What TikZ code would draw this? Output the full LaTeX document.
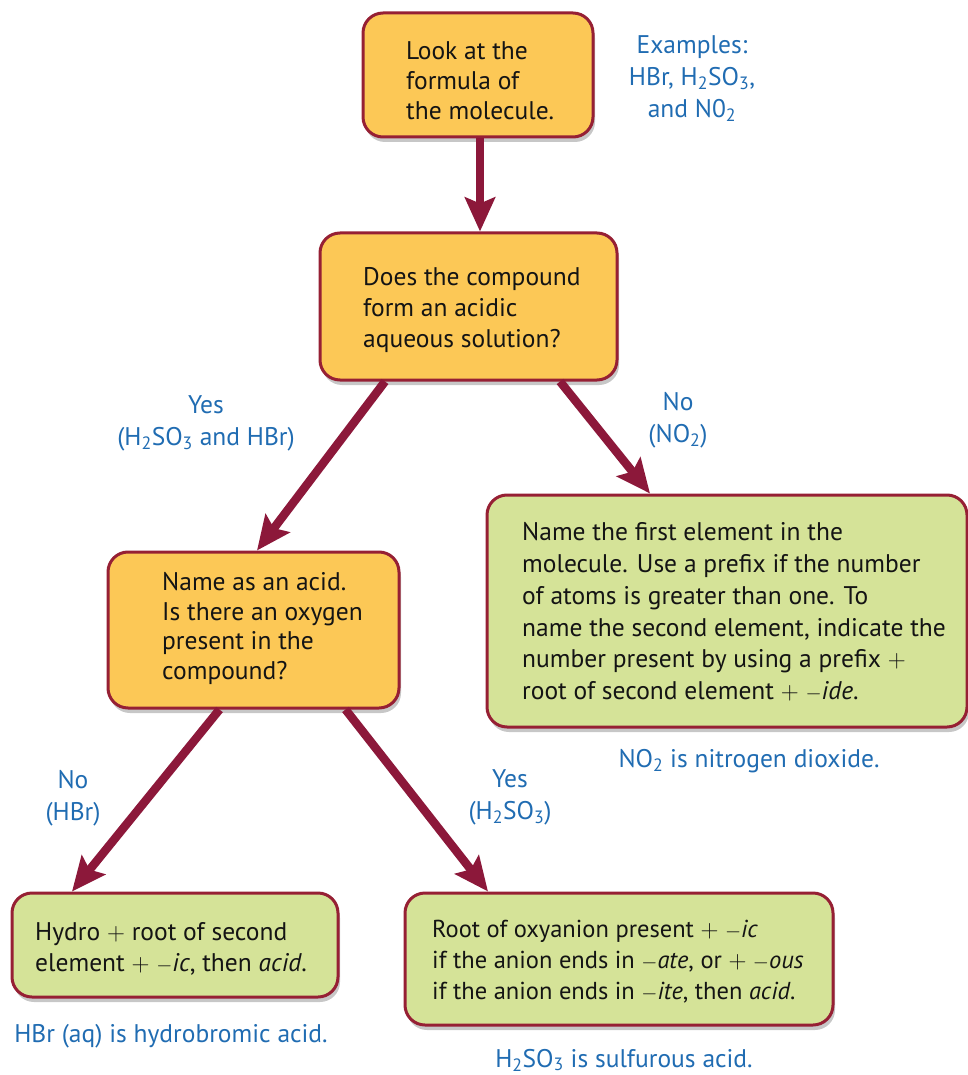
\documentclass[tikz,border=0pt]{standalone}
\usepackage{fontspec}
\setmainfont{PT Sans}
\usetikzlibrary{arrows.meta,shadows,calc}
\definecolor{boxorange}{RGB}{252,200,86}
\definecolor{boxgreen}{RGB}{213,227,152}
\definecolor{boxedge}{RGB}{150,32,52}
\definecolor{arrowred}{RGB}{140,24,58}
\definecolor{noteblue}{RGB}{32,108,178}
\definecolor{boxtext}{RGB}{20,20,20}
\newcommand\chsub[1]{\textsubscript{#1}}
\newcommand\pl{{\fontsize{23}{23}\selectfont$+$}}
\newcommand\mi{{\fontsize{21}{21}\selectfont$-$}}
\tikzset{
  flowbox/.style={draw=boxedge, line width=3pt, rounded corners=20pt, inner sep=0pt,
    drop shadow={shadow xshift=2pt, shadow yshift=-5pt, opacity=0.22, fill=black}},
  qbox/.style={flowbox, fill=boxorange},
  abox/.style={flowbox, fill=boxgreen},
  boxtxt/.style={anchor=west, align=left, inner sep=0pt, text=boxtext, font=\fontsize{25.5}{31}\selectfont},
  note/.style={align=center, inner sep=0pt, text=noteblue, font=\fontsize{25.5}{32}\selectfont},
  flowarrow/.style={draw=arrowred, line width=8.5pt, -{Stealth[length=34pt,width=30pt,inset=6pt]}},
}
\begin{document}
\begin{tikzpicture}[x=1pt,y=-1pt]
\useasboundingbox (0,0) rectangle (967,1075);

% boxes
\node[qbox, minimum width=230pt, minimum height=124pt] (b1) at (478,75) {};
\node[qbox, minimum width=297pt, minimum height=147pt] (b2) at (468.5,306.5) {};
\node[qbox, minimum width=291pt, minimum height=156pt] (b3) at (253.5,630) {};
\node[abox, minimum width=480pt, minimum height=232pt] (b4) at (727,611) {};
\node[abox, minimum width=326pt, minimum height=104pt] (b5) at (175,945) {};
\node[abox, minimum width=428pt, minimum height=132pt] (b6) at (619,959) {};

% box texts
\node[boxtxt, font=\fontsize{25.5}{30}\selectfont] (t1) at (406,81) {Look at the\\formula of\\the molecule.};
\node[boxtxt] (t2) at (363,310) {Does the compound\\form an acidic\\aqueous solution?};
\node[boxtxt, font=\fontsize{25.5}{29.5}\selectfont] (t3) at (162,628.5) {Name as an acid.\\Is there an oxygen\\present in the\\compound?};
\node[boxtxt, font=\fontsize{25.5}{31.8}\selectfont] (t4) at (522,612) {Name the first element in the\\molecule. Use a prefix if the number\\of atoms is greater than one. To\\name the second element, indicate the\\number present by using a prefix \pl\\root of second element \pl{} \mi\textit{ide}.};
\node[boxtxt] (t5) at (35,948.5) {Hydro \pl{} root of second\\element \pl{} \mi\textit{ic}, then \textit{acid}.};
\node[boxtxt, font=\fontsize{24.5}{31}\selectfont] (t6) at (432,962) {Root of oxyanion present \pl{} \mi\textit{ic}\\if the anion ends in \mi\textit{ate}, or \pl{} \mi\textit{ous}\\if the anion ends in \mi\textit{ite}, then \textit{acid}.};

% notes
\node[note] (n1) at (692,79) {Examples:\\HBr, H\chsub{2}SO\chsub{3},\\and N0\chsub{2}};
\node[note] (n2) at (206,423) {Yes\\(H\chsub{2}SO\chsub{3} and HBr)};
\node[note] (n3) at (678,420) {No\\(NO\chsub{2})};
\node[note] (n4) at (73,798) {No\\(HBr)};
\node[note] (n5) at (510,797) {Yes\\(H\chsub{2}SO\chsub{3})};
\node[note] (n6) at (749,761) {NO\chsub{2} is nitrogen dioxide.};
\node[note] (n7) at (171,1036) {HBr (aq) is hydrobromic acid.};
\node[note] (n8) at (624,1060) {H\chsub{2}SO\chsub{3} is sulfurous acid.};

% arrows
\draw[flowarrow] ($(b1.south)+(2,0)$) -- ($(b2.north)+(11.5,0)$);
\draw[flowarrow] ($(b2.south)+(-83.5,0)$) -- ($(b3.north)+(3.5,0)$);
\draw[flowarrow] ($(b2.south)+(91.5,0)$) -- ($(b4.north)+(-77,0)$);
\draw[flowarrow] ($(b3.south)+(-34,0)$) -- ($(b5.north)+(-103,0)$);
\draw[flowarrow] ($(b3.south)+(92,0)$) -- ($(b6.north)+(-131,0)$);
\end{tikzpicture}
\end{document}
